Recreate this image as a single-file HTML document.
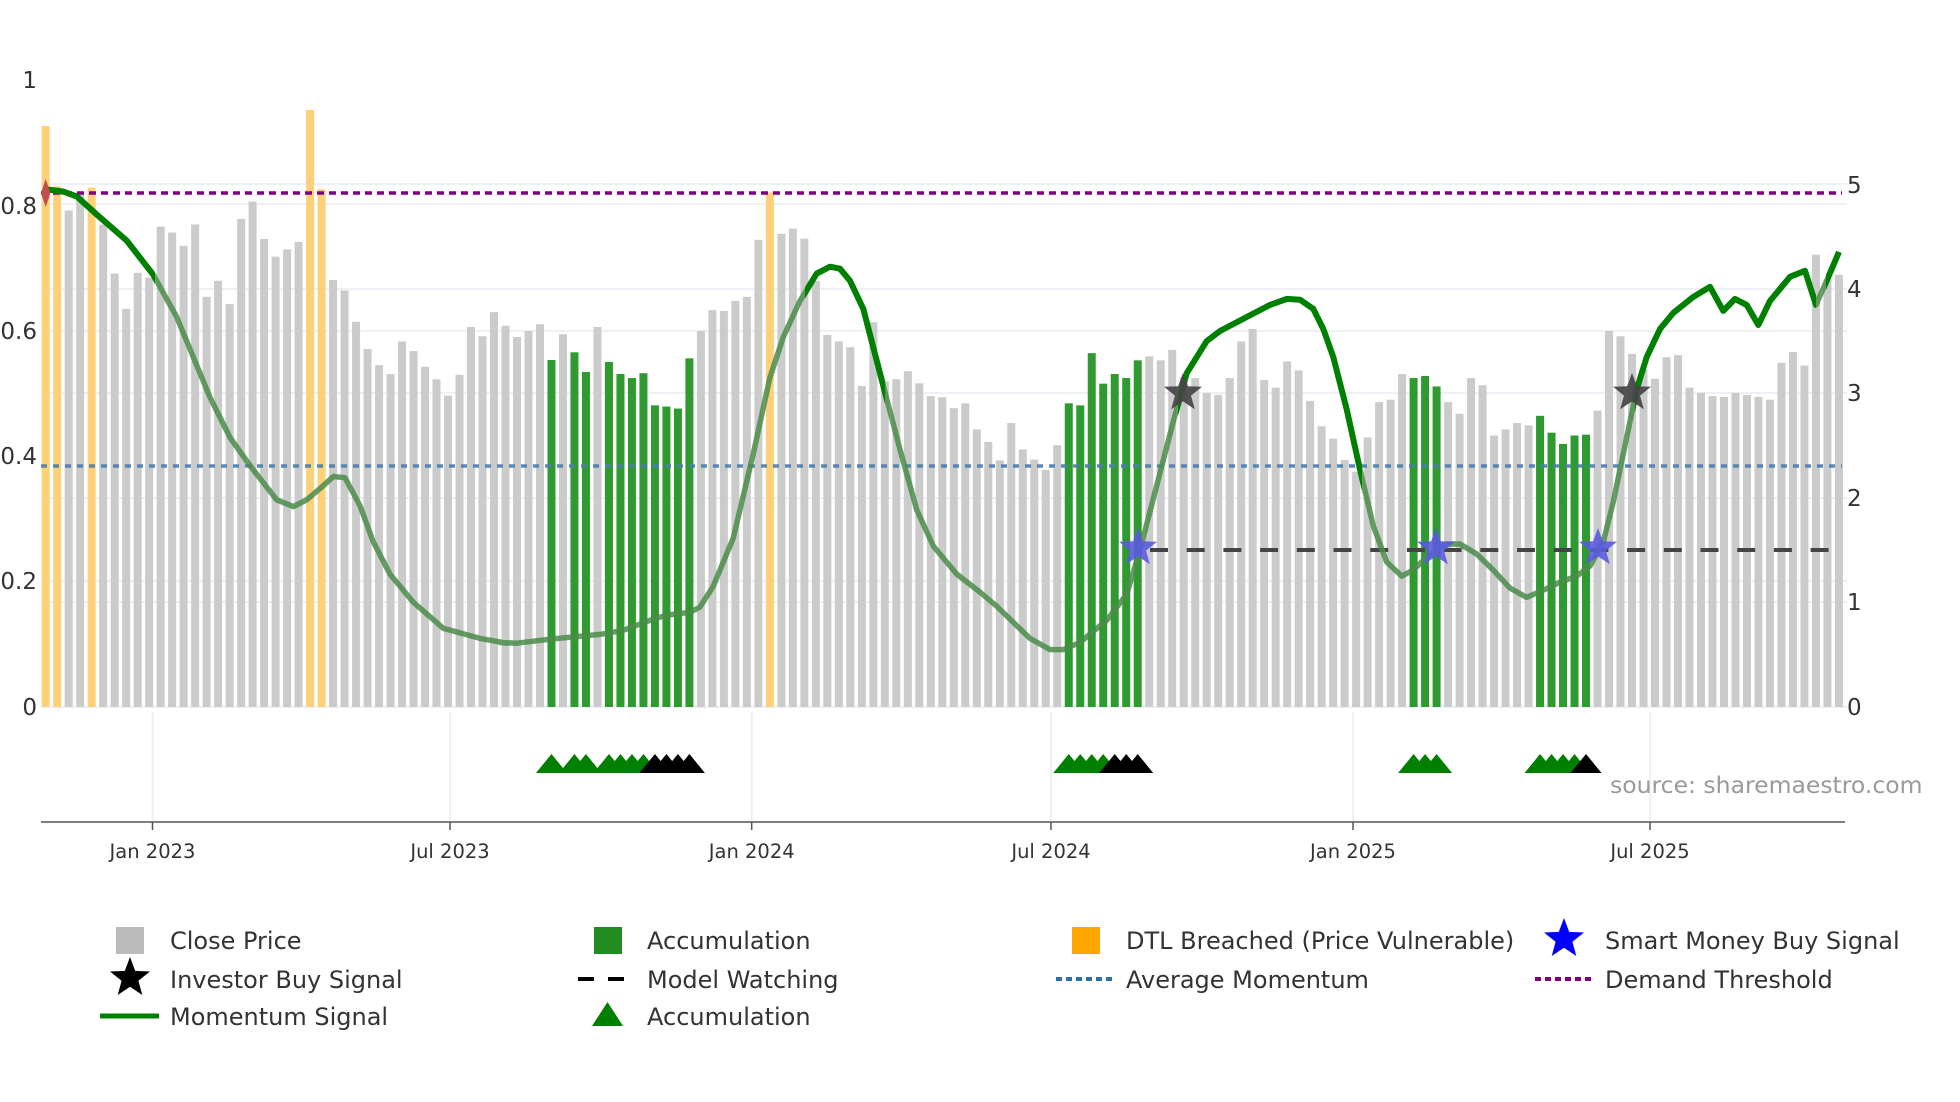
<!DOCTYPE html>
<html><head><meta charset="utf-8">
<style>
html,body{margin:0;padding:0;background:#fff;}
svg{display:block;font-family:"DejaVu Sans","Liberation Sans",sans-serif;}
</style></head>
<body>
<svg id="c" width="1960" height="1102" viewBox="0 0 1960 1102" xmlns="http://www.w3.org/2000/svg">
<defs>
<clipPath id="bright">
<rect x="41" y="0" width="114" height="720"/>
<rect x="805" y="0" width="80" height="720"/>
<rect x="1178" y="0" width="184" height="720"/>
<rect x="1635" y="0" width="181" height="720"/>
<rect x="1826" y="0" width="30" height="720"/>
</clipPath>
</defs>
<g id="grid" stroke="#edf0f5" stroke-width="2"></g>
<g id="bars"></g>
<line x1="41" y1="193" x2="1842" y2="193" stroke="#800080" stroke-width="3.5" stroke-dasharray="7,5"/>
<line x1="41" y1="466" x2="1842" y2="466" stroke="#4a7fae" stroke-width="3.5" stroke-dasharray="6,6" opacity="0.9"/>
<line x1="1150" y1="550" x2="1842" y2="550" stroke="#444" stroke-width="4" stroke-dasharray="18,18.7"/>
<g id="line"></g>
<g id="marks"></g>
<g id="tri"></g>
<g id="axes" font-size="23" fill="#333"></g>
<text x="1610" y="793" font-size="23.5" fill="#9a9a9a">source: sharemaestro.com</text>
<g id="legend" font-size="24" fill="#333"></g>
</svg>
<script>
const NS="http://www.w3.org/2000/svg";
function el(tag,attrs,parent,text){const e=document.createElementNS(NS,tag);for(const k in attrs)e.setAttribute(k,attrs[k]);if(text!==undefined)e.textContent=text;parent.appendChild(e);return e;}
const $=id=>document.getElementById(id);
[184,204,289,331,393,498,581,602,707].forEach(y=>el('line',{x1:41,y1:y,x2:1847,y2:y},$('grid')));
[152.5,450,751.7,1051,1353,1650].forEach(x=>el('line',{x1:x,y1:712,x2:x,y2:822},$('grid')));
const B=[[65,'O'],[215,'O'],[275,'g'],[230,'g'],[218,'O'],[310,'g'],[432,'g'],[520,'g'],[430,'g'],[442,'g'],[315,'g'],[330,'g'],[363,'g'],[310,'g'],[490,'g'],[450,'g'],[508,'g'],[296,'g'],[253,'g'],[346,'g'],[390,'g'],[372,'g'],[353,'g'],[25,'O'],[222,'O'],[448,'g'],[474,'g'],[552,'g'],[620,'g'],[660,'g'],[682,'g'],[601,'g'],[625,'g'],[664,'g'],[695,'g'],[736,'g'],[684,'g'],[565,'g'],[588,'g'],[528,'g'],[562,'g'],[590,'g'],[575,'g'],
[558,'g'],[647,'G'],[583,'g'],[628,'G'],[677,'G'],[565,'g'],[652,'G'],[682,'G'],[692,'G'],[680,'G'],[760,'G'],[763,'G'],[768,'G'],[643,'G'],[575,'g'],[523,'g'],[525,'g'],[500,'g'],[490,'g'],[348,'g'],[230,'O'],[333,'g'],[320,'g'],[345,'g'],[450,'g'],[585,'g'],[601,'g'],[615,'g'],[712,'g'],[553,'g'],[700,'g'],[695,'g'],[675,'g'],[705,'g'],[737,'g'],[740,'g'],[767,'g'],[755,'g'],[820,'g'],[851,'g'],[897,'g'],
[804,'g'],[870,'g'],[895,'g'],[921,'g'],[859,'g'],[755,'G'],[760,'G'],[630,'G'],[706,'G'],[682,'G'],[692,'G'],[648,'G'],[638,'g'],[648,'g'],[622,'g'],[690,'g'],[692,'g'],[729,'g'],[734,'g'],[692,'g'],[601,'g'],[570,'g'],[697,'g'],[716,'g'],[651,'g'],[673,'g'],[749,'g'],[812,'g'],[843,'g'],[896,'g'],[925,'g'],[840,'g'],[752,'g'],[746,'g'],[682,'g'],[692,'G'],[687,'G'],[713,'G'],[752,'g'],[781,'g'],[692,'g'],[710,'g'],
[835,'g'],[820,'g'],[804,'g'],[810,'g'],[786,'G'],[828,'G'],[856,'G'],[835,'G'],[833,'G'],[773,'g'],[575,'g'],[588,'g'],[632,'g'],[670,'g'],[694,'g'],[640,'g'],[635,'g'],[716,'g'],[729,'g'],[737,'g'],[739,'g'],[729,'g'],[734,'g'],[739,'g'],[746,'g'],[654,'g'],[627,'g'],[661,'g'],[385,'g'],[446,'g'],[435,'g']];
const col={g:'#cbcbcb',G:'#2f9a2f',O:'#ffd07a'};
const bx=i=>45.7+i*11.495;
B.forEach((b,i)=>{const top=100+b[0]/2.489;el('rect',{x:bx(i)-4,y:top,width:8,height:707-top,fill:col[b[1]]},$('bars'));});
const P=[];
function add(cx,pts){pts.forEach(p=>P.push([cx+p[0]/3,100+p[1]/2.489]));}
add(30,[[47,222],[100,228],[140,240],[200,285],[290,350],[370,435],[440,540],[490,640],[540,740],[600,840],[660,910],[740,995],[790,1012],[830,995],[880,960],[910,937],[945,940],[990,1010],[1030,1100],[1080,1180],[1150,1250],[1240,1315],[1350,1340],[1430,1352]]);
add(500,[[0,1350],[50,1352],[150,1342],[300,1330],[370,1320],[450,1295],[500,1282],[570,1275],[600,1262],[640,1210],[700,1090],[760,880],[810,690],[850,590],[900,500],[950,432],[990,415],[1020,420],[1050,450],[1090,520],[1140,680],[1200,870],[1250,1020],[1300,1110],[1370,1180],[1440,1225]]);
add(980,[[0,1225],[50,1260],[100,1300],[150,1340],[210,1368],[250,1368],[300,1350],[380,1295],[440,1230],[480,1120],[530,960],[580,800],[620,680],[680,600],[720,575],[800,540],[870,510],[920,495],[960,497],[1000,520],[1030,570],[1060,640],[1100,770],[1140,920],[1180,1060],[1220,1150],[1265,1185],[1300,1170],[1350,1130],[1400,1105],[1440,1105]]);
add(1460,[[0,1105],[50,1130],[100,1170],[150,1215],[200,1238],[250,1220],[300,1200],[350,1185],[390,1160],[430,1100],[460,1000],[500,840],[530,720],[560,640],[600,570],[640,530],[700,490],[750,465],[790,525],[825,495],[860,510],[895,560],[930,500],[990,440],[1035,425],[1068,510],[1100,450],[1137,378]]);
const d='M'+P.map(p=>p[0].toFixed(1)+','+p[1].toFixed(1)).join(' L');
el('path',{d:d,fill:'none',stroke:'#4a8c4a','stroke-width':5.5,'stroke-linejoin':'round',opacity:0.85},$('line'));
el('path',{d:d,fill:'none',stroke:'#008000','stroke-width':6,'stroke-linejoin':'round','clip-path':'url(#bright)'},$('line'));
function star(cx,cy,R,fill,parent,op){const r=R*0.42;let pts=[];for(let k=0;k<10;k++){const a=-Math.PI/2+k*Math.PI/5;const rr=k%2?r:R;pts.push((cx+rr*Math.cos(a)).toFixed(1)+','+(cy+rr*Math.sin(a)).toFixed(1));}return el('polygon',{points:pts.join(' '),fill:fill,opacity:op||1},parent);}
const m=$('marks');
el('polygon',{points:'45.7,179 50.5,193 45.7,207 41,193',fill:'#c0504d'},m);
star(1183,393,20,'#444',m,0.92);star(1632,393,20,'#444',m,0.92);
[[1138,548],[1436,548],[1598,548]].forEach(p=>star(p[0],p[1],20,'#5a5ae0',m,0.9));
const T=[[44,'G'],[46,'G'],[47,'G'],[49,'G'],[50,'G'],[51,'G'],[52,'G'],[53,'K'],[54,'K'],[55,'K'],[56,'K'],[89,'G'],[90,'G'],[91,'G'],[92,'G'],[93,'K'],[94,'K'],[95,'K'],[119,'G'],[120,'G'],[121,'G'],[130,'G'],[131,'G'],[132,'G'],[133,'G'],[134,'K']];
T.forEach(t=>{const x=bx(t[0]);el('polygon',{points:(x-15.5)+',773 '+x+',754 '+(x+15.5)+',773',fill:t[1]=='G'?'#007f00':'#000'},$('tri'));});
const ax=$('axes');
el('line',{x1:41,y1:822,x2:1845,y2:822,stroke:'#555','stroke-width':1.5},ax);
[[152.5,'Jan 2023'],[450,'Jul 2023'],[751.7,'Jan 2024'],[1051,'Jul 2024'],[1353,'Jan 2025'],[1650,'Jul 2025']].forEach(t=>{
 el('line',{x1:t[0],y1:822,x2:t[0],y2:830,stroke:'#555','stroke-width':1.5},ax);
 el('text',{x:t[0],y:858,'text-anchor':'middle','font-size':19.5},ax,t[1]);});
[[80,'1'],[206,'0.8'],[331,'0.6'],[456,'0.4'],[581,'0.2'],[707,'0']].forEach(t=>el('text',{x:37,y:t[0]+8,'text-anchor':'end'},ax,t[1]));
[[185,'5'],[289,'4'],[393,'3'],[498,'2'],[602,'1'],[707,'0']].forEach(t=>el('text',{x:1847,y:t[0]+8},ax,t[1]));
const L=$('legend');const r1=940,r2=979,r3=1016;
el('rect',{x:116,y:r1-13,width:28,height:27,fill:'#bbbbbb'},L);
el('rect',{x:594,y:r1-13,width:28,height:27,fill:'#228b22'},L);
el('rect',{x:1072,y:r1-13,width:28,height:27,fill:'#ffa500'},L);
star(1564,r1-1,21,'#0000ff',L);
star(130,r2-1,21,'#000',L);
el('line',{x1:578,y1:r2,x2:634,y2:r2,stroke:'#000','stroke-width':4,'stroke-dasharray':'16,14'},L);
el('line',{x1:1056,y1:r2,x2:1112,y2:r2,stroke:'#2a6fa8','stroke-width':4,'stroke-dasharray':'6,4'},L);
el('line',{x1:1535,y1:r2,x2:1591,y2:r2,stroke:'#800080','stroke-width':4,'stroke-dasharray':'6,4'},L);
el('line',{x1:100,y1:r3,x2:159,y2:r3,stroke:'#008000','stroke-width':5},L);
el('polygon',{points:'592,'+(r3+10)+' 607.5,'+(r3-14)+' 623,'+(r3+10),fill:'#008000'},L);
[[170,r1,'Close Price'],[647,r1,'Accumulation'],[1126,r1,'DTL Breached (Price Vulnerable)'],[1605,r1,'Smart Money Buy Signal'],
 [170,r2,'Investor Buy Signal'],[647,r2,'Model Watching'],[1126,r2,'Average Momentum'],[1605,r2,'Demand Threshold'],
 [170,r3,'Momentum Signal'],[647,r3,'Accumulation']].forEach(t=>el('text',{x:t[0],y:t[1]+9},L,t[2]));
</script>
</body></html>
